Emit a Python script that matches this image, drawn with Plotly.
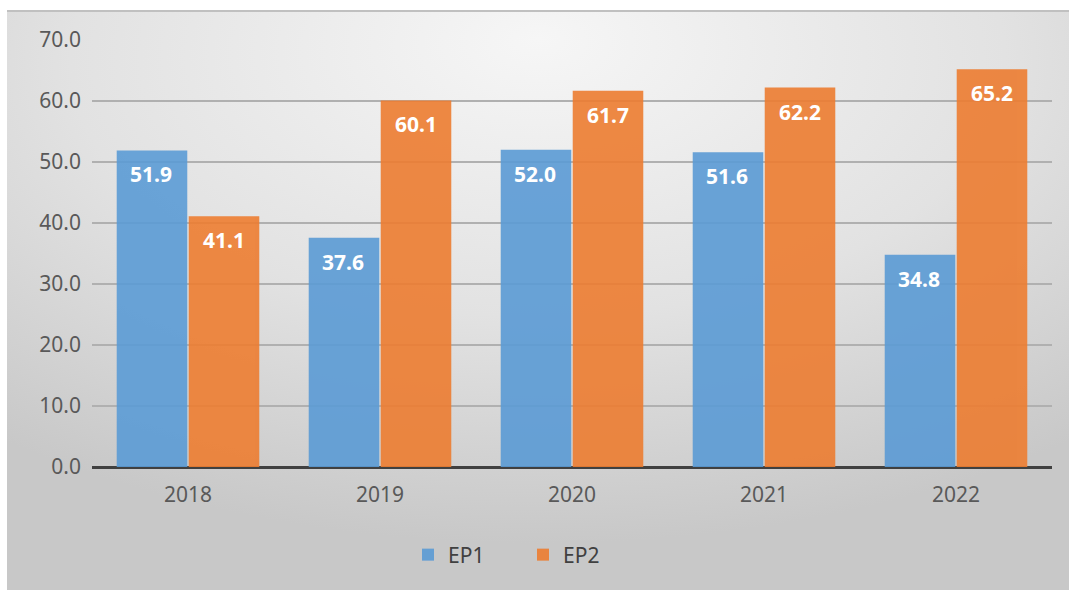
import base64
import plotly.graph_objects as go

years = ["2018", "2019", "2020", "2021", "2022"]
ep1 = [51.9, 37.6, 52.0, 51.6, 34.8]
ep2 = [41.1, 60.1, 61.7, 62.2, 65.2]
series_names = ["EP1", "EP2"]
y_ticks = [0, 10, 20, 30, 40, 50, 60, 70]

BLUE = "#5b9bd5"
ORANGE = "#ed7d31"
FONT = "Noto Sans"

W, H = 1069, 590
ML, MR, MT, MB = 92, 17, 40, 123
PW, PH = W - ML - MR, H - MT - MB

svg = '''<svg xmlns="http://www.w3.org/2000/svg" width="1062" height="580" viewBox="0 0 1062 580" preserveAspectRatio="none">
<defs><radialGradient id="g" cx="0.5" cy="0.12" r="0.8" fx="0.5" fy="0.05">
<stop offset="0" stop-color="#f6f6f6"/><stop offset="0.55" stop-color="#e2e2e2"/><stop offset="1" stop-color="#c8c8c8"/>
</radialGradient></defs>
<rect x="0" y="0" width="1062" height="580" fill="url(#g)"/>
<rect x="0" y="0" width="1062" height="2" fill="#c0c0c0"/>
</svg>'''
src = "data:image/svg+xml;base64," + base64.b64encode(svg.encode()).decode()

def px_x(p):
    return (p - ML) / PW

def px_y(p):
    return (H - MB - p) / PH

fig = go.Figure()
fig.add_trace(go.Bar(x=years, y=ep1, name=series_names[0], marker=dict(color=BLUE, line=dict(width=0)), opacity=0.9))
fig.add_trace(go.Bar(x=years, y=ep2, name=series_names[1], marker=dict(color=ORANGE, line=dict(width=0)), opacity=0.9))

annotations = []
for vals, shift in ((ep1, -37), (ep2, 36)):
    for i, v in enumerate(vals):
        annotations.append(dict(x=i, y=v, text=f"{v:.1f}", showarrow=False, xshift=shift, yshift=-24,
                                font=dict(family=FONT, size=21, color="white", weight="bold")))

fig.update_layout(
    width=W, height=H,
    margin=dict(l=ML, r=MR, t=MT, b=MB),
    paper_bgcolor="white", plot_bgcolor="rgba(0,0,0,0)",
    barmode="group", bargap=0.25, bargroupgap=0.02,
    font=dict(family=FONT, size=21, color="#595959"),
    showlegend=True,
    legend=dict(orientation="h", x=px_x(523), xanchor="center", y=px_y(555), yanchor="middle",
                font=dict(size=21, color="#404040"), bgcolor="rgba(0,0,0,0)", itemwidth=30,
                entrywidth=70, entrywidthmode="pixels", traceorder="normal"),
    annotations=annotations,
    images=[dict(source=src, xref="paper", yref="paper", x=px_x(7), y=px_y(10),
                 sizex=(1069 - 7) / PW, sizey=(590 - 10) / PH, sizing="stretch",
                 xanchor="left", yanchor="top", layer="below")],
    xaxis=dict(type="category", range=[-0.5, len(years) - 0.5], showgrid=False, showline=False,
               zeroline=False, ticks="", ticklabelstandoff=13, tickfont=dict(size=21, color="#595959")),
    yaxis=dict(range=[0, 70], tickvals=y_ticks, tickformat=".1f", showgrid=True, gridcolor="#b0b0b0",
               gridwidth=1.5, zeroline=True, zerolinecolor="#404040", zerolinewidth=3,
               showline=False, ticks="", ticklabelstandoff=10, tickfont=dict(size=21, color="#595959"),
               layer="above traces"),
)

fig.write_html("out.html", config={"displayModeBar": False},
               post_script="document.body.style.margin='0';")
